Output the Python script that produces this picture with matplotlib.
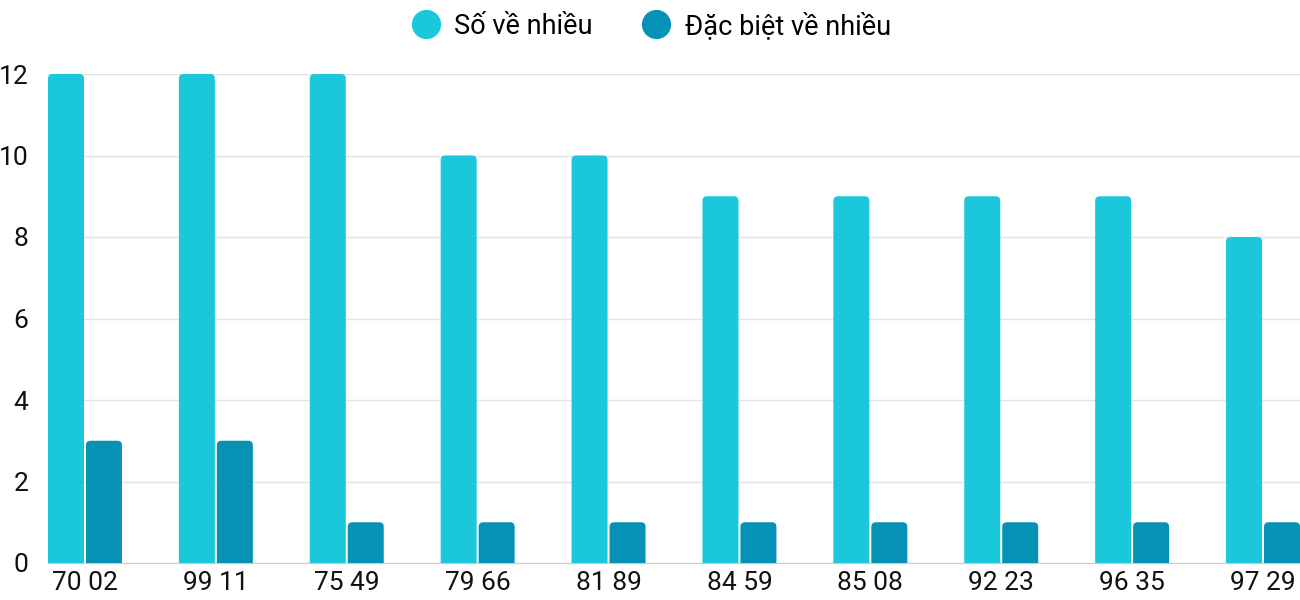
import matplotlib.pyplot as plt
from matplotlib.patches import FancyBboxPatch
from matplotlib.lines import Line2D
import numpy as np

plt.rcParams['font.family'] = ['Roboto', 'DejaVu Sans']

# datos
cap = ['70 02', '99 11', '75 49', '79 66', '81 89', '84 59', '85 08', '92 23', '96 35', '97 29']
soVeNhieu = [12, 12, 12, 10, 10, 9, 9, 9, 9, 8]
dacBietVeNhieu = [3, 3, 1, 1, 1, 1, 1, 1, 1, 1]
nombres = ['Số về nhiều', 'Đặc biệt về nhiều']
colores = ['#1bc8db', '#0592b5']

fig = plt.figure(figsize=(13, 6), dpi=100)
ax = fig.add_axes([48 / 1300, 37 / 600, 1252 / 1300, 489 / 600])

x = np.arange(len(cap))
w = 0.275
gap = 0.015
b1 = ax.bar(x - (w + gap) / 2, soVeNhieu, w, color=colores[0])
b2 = ax.bar(x + (w + gap) / 2, dacBietVeNhieu, w, color=colores[1])

# reemplazo las barras por rectangulos con esquinas redondeadas
aspect = (1 / 40.75) / (1 / 130.9)
for bars in (b1, b2):
  for bar in bars:
    bx, bw, bh = bar.get_x(), bar.get_width(), bar.get_height()
    p = FancyBboxPatch((bx, -0.5), bw, bh + 0.5,
                       boxstyle='round,pad=0,rounding_size=0.035',
                       mutation_aspect=aspect, fc=bar.get_facecolor(),
                       ec='none', zorder=3)
    ax.add_patch(p)
    bar.set_visible(False)

ax.set_xlim(-w - gap / 2, len(cap) - 1 + w + gap / 2)
ax.set_ylim(0, 12)
ax.set_yticks(range(0, 13, 2))
ax.set_xticks(x)
ax.set_xticklabels(cap)
ax.grid(axis='y', color='#e3e3e3', linewidth=1)
ax.set_axisbelow(True)
for s in ['top', 'right', 'left']:
  ax.spines[s].set_visible(False)
ax.spines['bottom'].set_color('#cccccc')
ax.tick_params(axis='y', length=0, pad=14, labelsize=19, labelcolor='#111111')
ax.tick_params(axis='x', length=0, pad=6, labelsize=19, labelcolor='#111111')

handles = [Line2D([], [], marker='o', linestyle='none', markersize=20,
                  markerfacecolor=c, markeredgecolor=c) for c in colores]
fig.legend(handles, nombres, loc='center', bbox_to_anchor=(0.5, 1 - 26 / 600),
           ncol=2, frameon=False, fontsize=19.5, handletextpad=0.45,
           columnspacing=1.75, handlelength=1.2)

plt.savefig('out.png')
